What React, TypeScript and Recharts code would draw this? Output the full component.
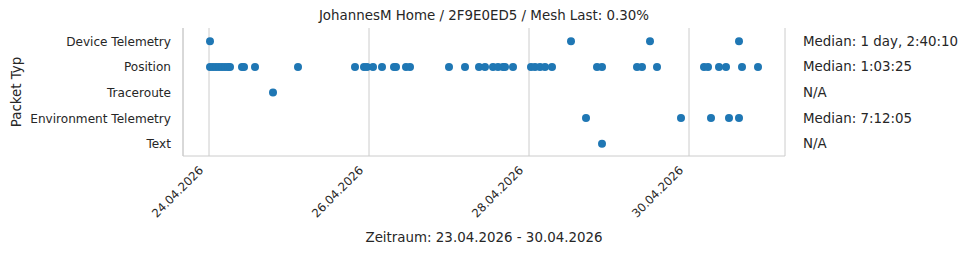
import React from "react";
import { CartesianGrid, Scatter, ScatterChart, XAxis, YAxis } from "recharts";

// hours since 24.04.2026 00:00
const categories = [
  "Device Telemetry",
  "Position",
  "Traceroute",
  "Environment Telemetry",
  "Text",
];
const medians = [
  "Median: 1 day, 2:40:10",
  "Median: 1:03:25",
  "N/A",
  "Median: 7:12:05",
  "N/A",
];
const deviceTelemetry = [0.3, 108.6, 132.3, 159];
const position = [
  0.3, 1.2, 2.1, 3.0, 3.9, 4.8, 5.7, 6.3, 9.9, 10.5, 13.8, 26.7, 43.8, 46.5,
  47.4, 49.2, 51.9, 55.5, 56.1, 59.1, 60.3, 72, 76.8, 81, 82.8, 85.2, 86.7,
  88.2, 88.8, 91.2, 96.6, 97.8, 99.3, 100.8, 102.9, 116.4, 117.9, 128.4, 129.9,
  134.4, 148.5, 149.7, 153, 155.1, 159.9, 164.7,
];
const traceroute = [19.2];
const environmentTelemetry = [113.1, 141.6, 150.6, 156, 159];
const text = [117.9];
const xTicks = [0, 48, 96, 144];
const xTickLabels = ["24.04.2026", "26.04.2026", "28.04.2026", "30.04.2026"];

const series = [deviceTelemetry, position, traceroute, environmentTelemetry, text];
const points = series.flatMap((hours, i) => hours.map((h) => ({ x: h, y: i })));

const W = 967;
const H = 255;
const LEFT = 183;
const RIGHT = 785;
const TOP = 28;
const BOTTOM = 156;
const FONT = "'DejaVu Sans', sans-serif";
const INK = "#262626";
const GRID = "#cccccc";
const TICK_FS = 12.1;
const XTICK_FS = 11.7;
const LABEL_FS = 13.4;

function YTick(props: any) {
  const { x, y, payload } = props;
  return (
    <g>
      <text x={x} y={y} dy={5} textAnchor="end" fontSize={TICK_FS} fill={INK} fontFamily={FONT}>
        {categories[payload.value]}
      </text>
      <text x={RIGHT + 18} y={y} dy={5} textAnchor="start" fontSize={LABEL_FS} fill={INK} fontFamily={FONT}>
        {medians[payload.value]}
      </text>
    </g>
  );
}

function XTick(props: any) {
  const { x, payload } = props;
  const label = xTickLabels[xTicks.indexOf(payload.value)];
  const tx = x - 5;
  const ty = BOTTOM + 15;
  return (
    <text
      x={tx}
      y={ty}
      transform={`rotate(-45 ${tx} ${ty})`}
      textAnchor="end"
      fontSize={XTICK_FS}
      fill={INK}
      fontFamily={FONT}
    >
      {label}
    </text>
  );
}

export default function App() {
  return (
    <div style={{ position: "absolute", left: 0, top: 0, width: W, height: H, background: "#fff", fontFamily: FONT, color: INK }}>
      <div style={{ position: "absolute", left: LEFT, width: RIGHT - LEFT, top: 8, lineHeight: "16px", textAlign: "center", fontSize: LABEL_FS }}>
        JohannesM Home / 2F9E0ED5 / Mesh Last: 0.30%
      </div>
      <ScatterChart
        width={W}
        height={H}
        margin={{ top: TOP, right: W - RIGHT, bottom: 0, left: 0 }}
      >
        <CartesianGrid horizontal={false} stroke={GRID} />
        <XAxis
          type="number"
          dataKey="x"
          domain={[-7.8, 172.8]}
          allowDataOverflow
          ticks={xTicks}
          height={H - BOTTOM}
          axisLine={{ stroke: GRID }}
          tickLine={false}
          tickSize={0}
          tick={<XTick />}
        />
        <YAxis
          type="number"
          dataKey="y"
          domain={[-0.5, 4.5]}
          allowDataOverflow
          reversed
          ticks={[0, 1, 2, 3, 4]}
          width={LEFT}
          axisLine={{ stroke: GRID }}
          tickLine={false}
          tickSize={0}
          tickMargin={12}
          tick={<YTick />}
        />
        <Scatter
          data={points}
          fill="#1f77b4"
          isAnimationActive={false}
          shape={(p: any) => <circle cx={p.cx} cy={p.cy + 0.5} r={4} fill="#1f77b4" />}
        />
      </ScatterChart>
      <div style={{ position: "absolute", left: LEFT, width: RIGHT - LEFT, top: 230, lineHeight: "16px", textAlign: "center", fontSize: LABEL_FS }}>
        Zeitraum: 23.04.2026 - 30.04.2026
      </div>
      <div
        style={{
          position: "absolute",
          left: 16,
          top: (TOP + BOTTOM) / 2,
          transform: "translate(-50%, -50%) rotate(-90deg)",
          whiteSpace: "nowrap",
          fontSize: LABEL_FS,
        }}
      >
        Packet Typ
      </div>
    </div>
  );
}
